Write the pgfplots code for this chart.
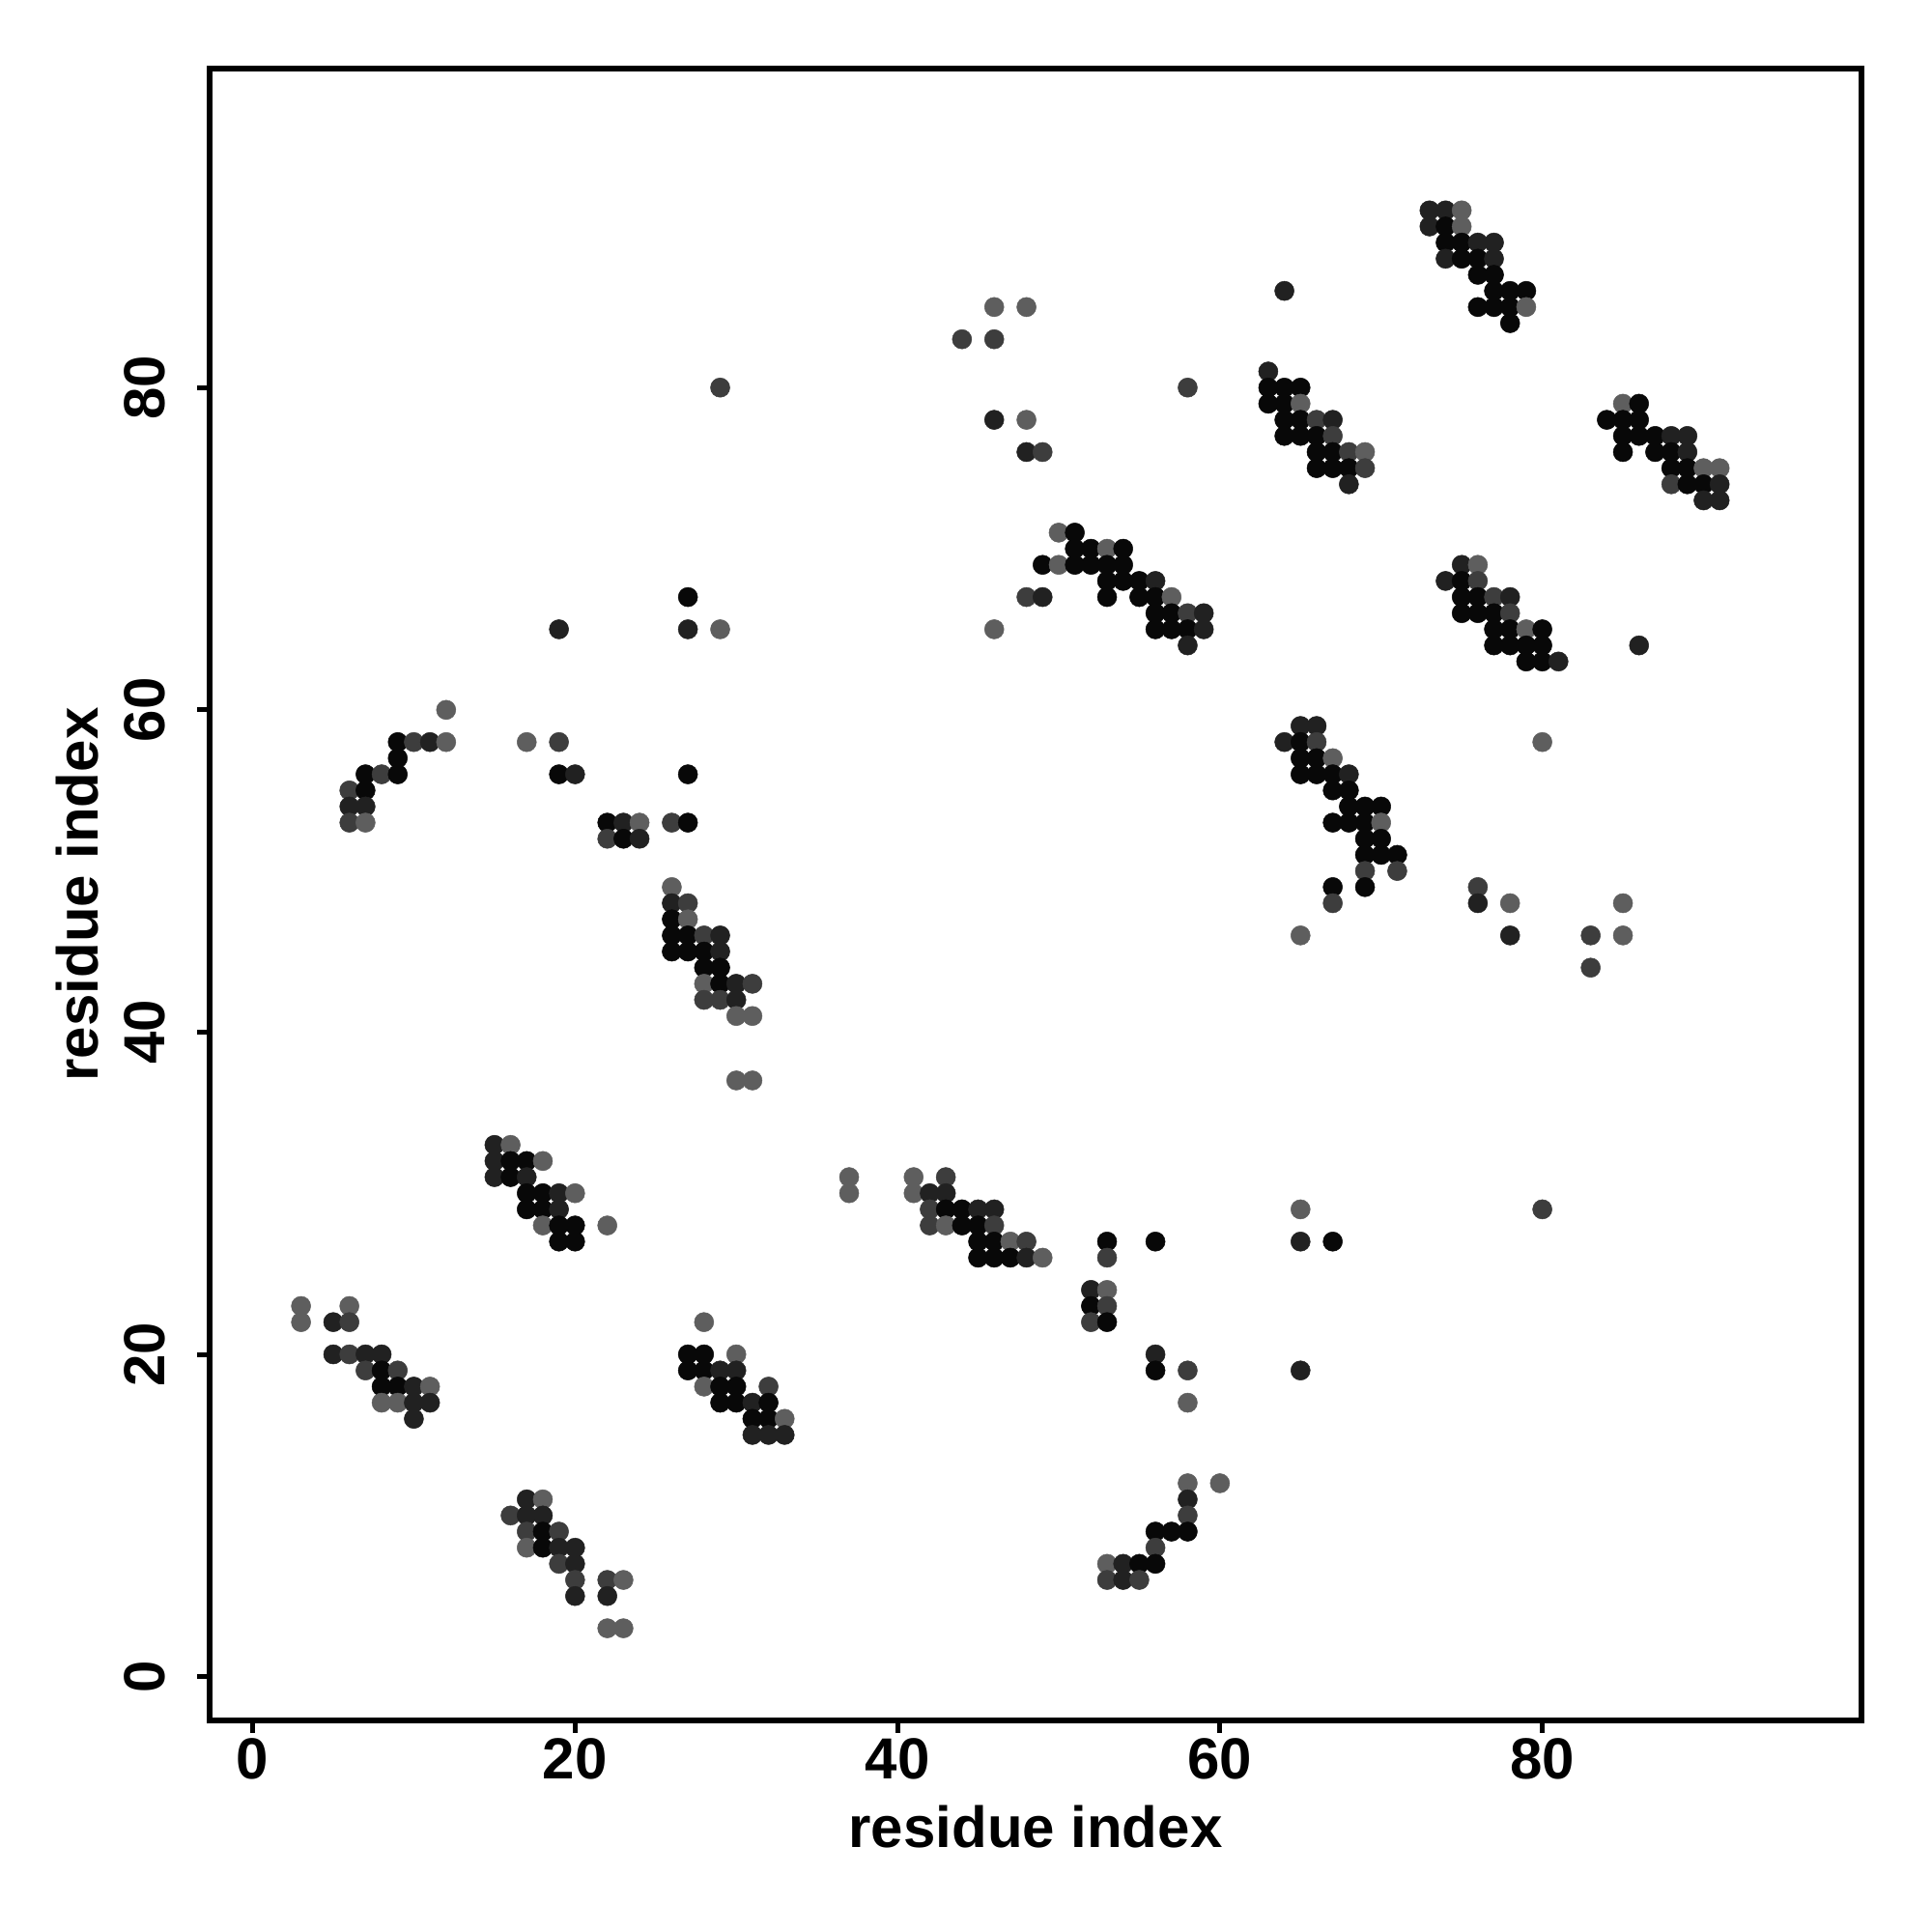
\documentclass[border=0pt]{standalone}
\usepackage{fontspec}
\setmainfont{Liberation Sans}
\usepackage{pgfplots}
\usepackage{pgfplotstable}
\pgfplotsset{compat=1.18}
\definecolor{c0}{gray}{0.03}
\definecolor{c1}{gray}{0.13}
\definecolor{c2}{gray}{0.24}
\definecolor{c3}{gray}{0.37}
\pgfplotstableread{
x y c
3 23 3
6 23 3
3 22 3
5 22 1
6 22 2
5 20 1
6 20 2
7 20 1
8 20 1
7 19 2
8 19 0
9 19 2
8 18 0
9 18 0
10 18 1
11 18 3
8 17 3
9 17 3
10 17 1
11 17 1
10 16 1
17 11 1
18 11 3
16 10 2
17 10 1
18 10 1
17 9 2
18 9 0
19 9 2
17 8 3
18 8 0
19 8 1
20 8 1
19 7 2
20 7 1
20 6 2
22 6 2
23 6 3
20 5 1
22 5 1
22 3 3
23 3 3
15 33 1
16 33 3
15 32 1
16 32 0
17 32 0
18 32 3
15 31 1
16 31 0
17 31 1
17 30 0
18 30 0
19 30 1
20 30 3
17 29 0
18 29 0
19 29 1
18 28 3
19 28 0
20 28 0
22 28 3
19 27 0
20 27 0
28 22 3
27 20 0
28 20 0
30 20 3
27 19 0
28 19 0
29 19 1
30 19 1
28 18 3
29 18 0
30 18 0
32 18 2
29 17 0
30 17 0
31 17 1
32 17 0
31 16 0
32 16 0
33 16 3
31 15 1
32 15 1
33 15 1
12 60 3
9 58 0
10 58 2
11 58 1
12 58 3
17 58 3
19 58 2
9 57 0
7 56 0
8 56 2
9 56 0
19 56 0
20 56 1
6 55 2
7 55 0
6 54 1
7 54 1
6 53 2
7 53 3
22 53 0
23 53 1
24 53 3
22 52 2
23 52 0
24 52 1
27 67 0
27 65 1
29 65 3
19 65 1
29 80 2
27 56 0
26 53 2
27 53 0
26 49 3
26 48 1
27 48 2
26 47 0
27 47 3
26 46 0
27 46 0
28 46 2
29 46 1
26 45 0
27 45 0
28 45 0
29 45 1
28 44 0
29 44 0
28 43 3
29 43 0
30 43 1
31 43 2
28 42 2
29 42 2
30 42 1
30 41 3
31 41 3
30 37 3
31 37 3
37 31 3
41 31 3
43 31 2
37 30 3
41 30 3
42 30 1
43 30 1
42 29 2
43 29 0
44 29 0
45 29 1
46 29 1
42 28 2
43 28 3
44 28 0
45 28 0
46 28 2
45 27 0
46 27 0
47 27 3
48 27 2
45 26 0
46 26 0
47 26 0
48 26 1
49 26 3
53 27 0
56 27 0
53 26 2
52 24 1
53 24 3
52 23 0
53 23 2
52 22 2
53 22 0
56 20 1
56 19 0
58 19 2
58 17 3
58 12 3
60 12 3
58 11 1
58 10 2
56 9 0
57 9 0
58 9 0
56 8 2
53 7 3
54 7 1
55 7 0
56 7 0
53 6 2
54 6 1
55 6 2
46 85 3
48 85 3
44 83 2
46 83 2
58 80 2
46 78 1
48 78 3
48 76 1
49 76 2
50 71 3
51 71 0
51 70 0
52 70 0
53 70 3
54 70 0
49 69 0
50 69 3
51 69 0
52 69 0
53 69 0
54 69 0
53 68 0
54 68 0
55 68 0
56 68 1
48 67 2
49 67 1
53 67 0
55 67 0
56 67 0
57 67 3
56 66 0
57 66 0
58 66 2
59 66 1
46 65 3
56 65 0
57 65 0
58 65 0
59 65 1
58 64 1
64 86 1
63 81 1
63 80 0
64 80 0
65 80 0
63 79 0
64 79 0
65 79 3
64 78 0
65 78 0
66 78 2
67 78 1
64 77 0
65 77 0
66 77 0
67 77 2
66 76 0
67 76 0
68 76 2
69 76 3
66 75 0
67 75 0
68 75 0
69 75 2
68 74 1
65 59 1
66 59 1
64 58 1
65 58 0
66 58 2
65 57 0
66 57 0
67 57 3
65 56 0
66 56 0
67 56 0
68 56 1
67 55 0
68 55 0
68 54 0
69 54 0
70 54 0
67 53 0
68 53 0
69 53 0
70 53 3
69 52 0
70 52 0
69 51 0
70 51 0
71 51 0
69 50 2
71 50 2
67 49 0
69 49 0
67 48 2
65 46 3
73 91 1
74 91 1
75 91 3
73 90 1
74 90 0
75 90 3
74 89 0
75 89 0
76 89 1
77 89 1
74 88 1
75 88 0
76 88 0
77 88 1
76 87 0
77 87 0
77 86 0
78 86 0
79 86 0
76 85 0
77 85 0
78 85 0
79 85 3
78 84 0
75 69 1
76 69 3
74 68 1
75 68 0
76 68 2
75 67 0
76 67 0
77 67 2
78 67 1
75 66 0
76 66 0
77 66 0
78 66 2
77 65 0
78 65 0
79 65 3
80 65 0
77 64 0
78 64 0
79 64 0
80 64 0
79 63 0
80 63 0
81 63 1
86 64 1
80 58 3
85 79 3
86 79 0
84 78 0
85 78 0
86 78 0
85 77 0
86 77 0
87 77 0
88 77 1
89 77 1
85 76 0
87 76 0
88 76 0
89 76 1
88 75 0
89 75 0
90 75 3
91 75 3
88 74 2
89 74 0
90 74 0
91 74 1
90 73 1
91 73 1
76 49 2
76 48 1
78 48 3
85 48 3
78 46 1
83 46 2
85 46 3
83 44 2
65 29 3
80 29 2
65 27 1
67 27 0
65 19 1
}\contacts
\begin{document}
\begin{tikzpicture}
\begin{axis}[
  width=342pt, height=342pt, scale only axis,
  xmin=-2.67, xmax=99.8, ymin=-2.72, ymax=99.8,
  axis line style={line width=1.1pt},
  xtick={0,20,40,60,80}, ytick={0,20,40,60,80},
  tick align=outside, tick pos=left,
  major tick length=2.6pt,
  every tick/.style={black, line width=1.0pt},
  /pgf/number format/assume math mode=true,
  ticklabel style={font=\fontsize{12}{14}\selectfont\bfseries},
  yticklabel style={rotate=90, anchor=south, inner sep=0pt},
  xticklabel style={anchor=north, inner sep=0pt},
  xticklabel shift=1pt,
  yticklabel shift=6.3pt,
  xlabel={residue index}, ylabel={residue index},
  label style={font=\fontsize{12}{14}\selectfont\bfseries},
  xlabel style={at={(axis description cs:0.5,-0.0643)}, anchor=center},
  ylabel style={at={(axis description cs:-0.0801,0.5)}, anchor=center},
]
\addplot[scatter, only marks, mark=*, mark size=2.0pt,
  mark options={line width=0.1pt},
  scatter src=explicit symbolic,
  scatter/classes={
    0={mark=*,fill=c0,draw=c0},
    1={mark=*,fill=c1,draw=c1},
    2={mark=*,fill=c2,draw=c2},
    3={mark=*,fill=c3,draw=c3}}]
  table[x=x, y=y, meta=c] {\contacts};
\coordinate (bl) at (rel axis cs:0,0);
\coordinate (tr) at (rel axis cs:1,1);
\end{axis}
\path (bl) ++(-43.4pt,-43.8pt) coordinate (a);
\path (tr) ++(14.6pt,14.2pt) coordinate (b);
\path (a) rectangle (b);
\end{tikzpicture}
\end{document}
